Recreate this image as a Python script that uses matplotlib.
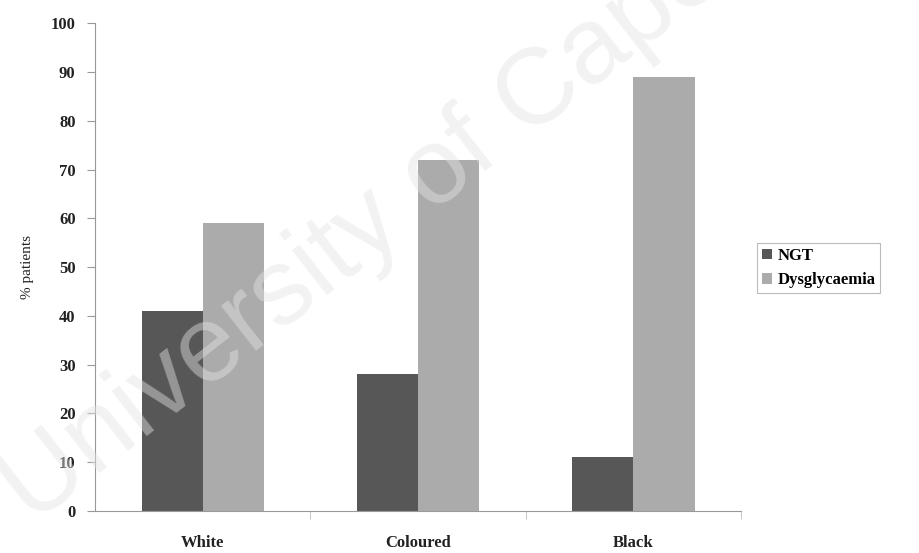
import numpy as np
import matplotlib
matplotlib.use('Agg')
import matplotlib.pyplot as plt

# data
groups = ['White', 'Coloured', 'Black']
ngt = [41, 28, 11]
dysglycaemia = [59, 72, 89]
yticks = list(range(0, 101, 10))

plt.rcParams['font.family'] = ['Liberation Serif', 'DejaVu Serif']

fig = plt.figure(figsize=(9.19, 5.53), dpi=100)
ax = fig.add_axes([0.1034, 0.076, 0.703, 0.882])

x = np.arange(len(groups))
w = 0.284
ax.bar(x - w / 2, ngt, w, color='#575757', label='NGT', zorder=2)
ax.bar(x + w / 2, dysglycaemia, w, color='#ababab', label='Dysglycaemia', zorder=2)

ax.set_xlim(-0.5, 2.5)
ax.set_ylim(0, 100)
ax.set_yticks(yticks)
ax.set_yticklabels([str(v) for v in yticks], fontsize=12, fontweight='bold', color='#222222')
ax.set_xticks(x)
ax.set_xticklabels(groups, fontsize=12, fontweight='bold', color='#222222')
ax.tick_params(axis='x', length=0, pad=17)
ax.set_xticks([0.5, 1.5, 2.5], minor=True)
ax.tick_params(axis='x', which='minor', length=6, color='#bbbbbb')
ax.tick_params(axis='y', length=6, color='#999999', pad=8)

for s in ['top', 'right']:
    ax.spines[s].set_visible(False)
ax.spines['left'].set_color('#999999')
ax.spines['bottom'].set_color('#999999')

ax.set_ylabel('% patients', fontsize=11, color='#222222', labelpad=12)

leg = fig.legend(loc='center left', bbox_to_anchor=(0.815, 0.515),
                 prop={'size': 12, 'weight': 'bold'}, frameon=True,
                 handlelength=0.6, handleheight=0.6, handletextpad=0.3,
                 borderpad=0.3, fancybox=False)
leg.get_frame().set_edgecolor('#aaaaaa')
leg.get_frame().set_linewidth(0.8)

# faint watermark from the scanned page
fig.text(0.035, 0.05, 'University of Cape Town', fontsize=78, family='Liberation Sans',
         color='#e4e4e4', alpha=0.45, rotation=38, rotation_mode='anchor',
         ha='left', va='baseline', zorder=10)

fig.savefig('out.png', dpi=100)
